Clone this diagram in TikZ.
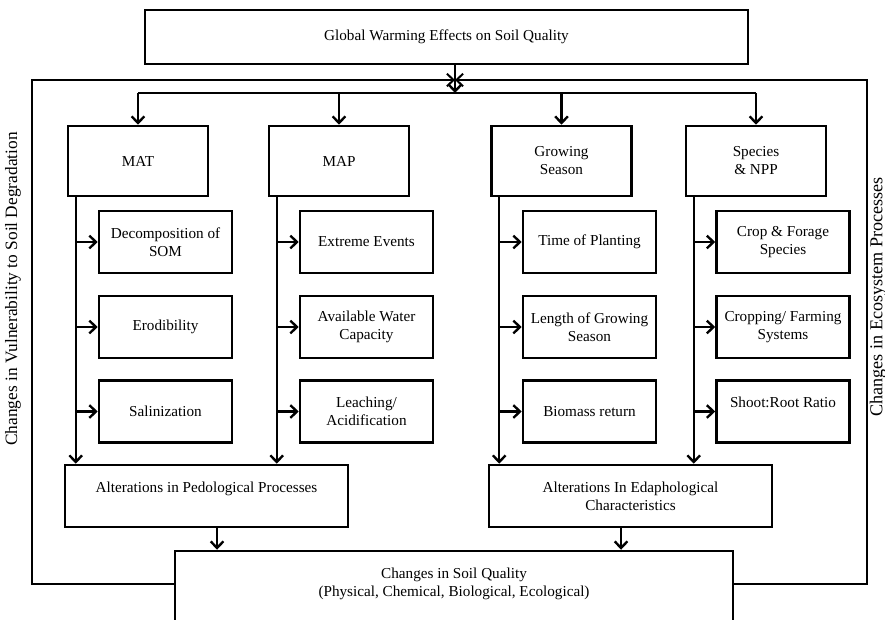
\documentclass[tikz,border=0pt]{standalone}
\usepackage{fontspec}
\setmainfont{Liberation Serif}
\usetikzlibrary{arrows.meta,calc}

\tikzset{
  box/.style={draw, line width=1.9pt, align=center, inner sep=2pt,
    font=\fontsize{11.4}{13.5}\selectfont},
  headbox/.style={box, minimum width=105pt, minimum height=52.5pt},
  subbox/.style={box, minimum width=99.75pt, minimum height=46.5pt},
  sumbox/.style={box, minimum width=212.25pt, minimum height=46.5pt},
  arr/.style={line width=1.8pt, -{Straight Barb[length=5pt,width=9.5pt]}},
  link/.style={line width=1.8pt},
  frame/.style={line width=1.5pt},
  side/.style={rotate=90, font=\fontsize{13}{15}\selectfont},
}

\begin{document}
\begin{tikzpicture}[x=0.75pt,y=-0.75pt]
  \useasboundingbox (0,0) rectangle (885,619);
  \clip (0,0) rectangle (885,619);
  % top and bottom boxes
  \node[box, minimum width=452.25pt, minimum height=40.5pt] (top) at (446.5,37) {Global Warming Effects on Soil Quality};
  \node[box, minimum width=418.5pt, minimum height=60pt] (soil) at (454,591) {Changes in Soil Quality\\(Physical, Chemical, Biological, Ecological)\\\mbox{}};
  % climate drivers
  \node[headbox] (mat) at (138,161) {MAT};
  \node[headbox] (map) at (339,161) {MAP};
  \node[headbox] (gs) at (561.5,161) {Growing\\Season};
  \node[headbox] (npp) at (756,161) {Species\\\& NPP};
  % effects, three rows
  \node[subbox] (som) at (165.5,242) {Decomposition of\\SOM};
  \node[subbox] (ero) at (165.5,327) {Erodibility};
  \node[subbox] (sal) at (165.5,411.5) {Salinization};
  \node[subbox] (ext) at (366.5,242) {Extreme Events};
  \node[subbox] (awc) at (366.5,327) {Available Water\\Capacity};
  \node[subbox] (lea) at (366.5,411.5) {Leaching/\\Acidification};
  \node[subbox] (tpl) at (589.5,242) {Time of Planting};
  \node[subbox] (lgs) at (589.5,327) {Length of Growing\\Season};
  \node[subbox] (bio) at (589.5,411.5) {Biomass return};
  \node[subbox] (cfs) at (783,242) {Crop \& Forage\\Species};
  \node[subbox] (cfm) at (783,327) {Cropping/ Farming\\Systems};
  \node[subbox] (srr) at (783,411.5) {Shoot:Root Ratio\\\mbox{}};
  % alterations
  \node[sumbox] (ped) at (206.5,496) {Alterations in Pedological Processes\\\mbox{}};
  \node[sumbox] (eda) at (630.5,496) {Alterations In Edaphological\\Characteristics};
  % side labels
  \node[side] (vul) at (13,289) {Changes in Vulnerability to Soil Degradation};
  \node[side, font=\fontsize{13.6}{15}\selectfont] (eco) at (878,297) {Changes in Ecosystem Processes};

  % distribution from the top
  \coordinate (hub) at (455,93);
  \draw[arr] (top.south -| hub) -- (hub);
  \draw[link] (mat.north |- hub) -- (npp.north |- hub);
  \foreach \h in {mat,map,gs,npp}
    \draw[arr] (\h.north |- hub) -- (\h.north);

  % trunks and branches
  \foreach \h/\s/\a/\b/\c in {mat/ped/som/ero/sal, map/ped/ext/awc/lea, gs/eda/tpl/lgs/bio, npp/eda/cfs/cfm/srr} {
    \draw[arr] ([xshift=6.75pt]\h.south west) -- ([xshift=6.75pt]\h.south west |- \s.north);
    \foreach \s in {\a,\b,\c}
      \draw[arr] ([xshift=6.75pt]\h.south west |- \s.west) -- (\s.west);
  }
  \draw[arr] ([xshift=7.9pt]ped.south) -- ([xshift=7.9pt]ped.south |- soil.north);
  \draw[arr] ([xshift=-7.1pt]eda.south) -- ([xshift=-7.1pt]eda.south |- soil.north);

  % feedback frame
  \coordinate (ftop) at (455,80);
  \coordinate (fbot) at (455,584);
  \coordinate (fl) at (32,0);
  \coordinate (fr) at (867,0);
  \draw[arr,frame] (soil.west |- fbot) -- (fl |- fbot) -- (fl |- ftop) -- (ftop);
  \draw[arr,frame] (soil.east |- fbot) -- (fr |- fbot) -- (fr |- ftop) -- (ftop);
\end{tikzpicture}
\end{document}
